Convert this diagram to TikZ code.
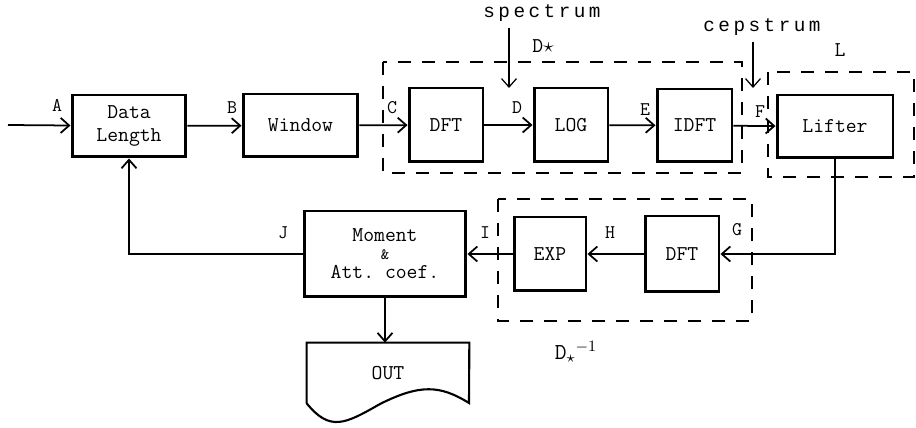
\documentclass[tikz,border=0pt]{standalone}
\usepackage{fontspec}
\newfontfamily\spacedtt[LetterSpace=18]{Liberation Mono}
\usetikzlibrary{arrows.meta,positioning}
\tikzset{
  blk/.style={draw,line width=1.7pt,inner sep=0pt,font=\ttfamily\fontsize{12}{13}\selectfont},
  conn/.style={-{Straight Barb[length=1.7mm,width=3mm]},line width=1pt},
  grp/.style={draw,line width=0.8pt,dash pattern=on 0.26cm off 0.22cm},
  lbl/.style={font=\ttfamily\fontsize{11}{12}\selectfont,inner sep=0pt},
  every node/.style={font=\ttfamily}
}

\begin{document}
\begin{tikzpicture}[x=0.02cm,y=-0.02cm]
\useasboundingbox (0,0) rectangle (916,428);

% upper row
\node[blk,minimum width=2.28cm,minimum height=1.24cm,align=center] (dlen) at (129,126) {Data\\Length};
\node[blk,minimum width=2.3cm,minimum height=1.26cm] (win) at (300.5,125.5) {Window};
\node[blk,minimum width=1.48cm,minimum height=1.48cm] (dft) at (446,125) {DFT};
\node[blk,minimum width=1.48cm,minimum height=1.48cm] (log) at (571,125) {LOG};
\node[blk,minimum width=1.5cm,minimum height=1.46cm] (idft) at (694.5,125.5) {IDFT};
\node[blk,minimum width=2.32cm,minimum height=1.26cm] (lift) at (835,126.5) {Lifter};

% lower row
\node[blk,minimum width=3.24cm,minimum height=1.72cm,align=center] (mom) at (385,254)
  {Moment\\[-3pt]{\fontsize{9}{9}\selectfont\&}\\[-2pt]Att.\ coef.};
\node[blk,minimum width=1.44cm,minimum height=1.48cm] (exp) at (550,254) {EXP};
\node[blk,minimum width=1.48cm,minimum height=1.52cm] (dft2) at (682,254) {DFT};

% output document
\node[minimum width=3.24cm,minimum height=1.2cm,inner sep=0pt,font=\ttfamily\fontsize{12}{13}\selectfont] (out) at (388,373) {OUT};
\draw[line width=1.2pt] (out.south west) -- (out.north west) -- (out.north east) -- (469,403)
  .. controls (440,385) and (420,384) .. (380,404)
  .. controls (345,424) and (330,432) .. (out.south west);

% groups
\draw[grp] (383,62) rectangle (742,173);
\draw[grp] (768,72) rectangle (914,177);
\draw[grp] (498,199) rectangle (752,321);
\node[font=\ttfamily\fontsize{12}{13}\selectfont] (dstar) at (543,46) {D$\star$};
\node[font=\ttfamily\fontsize{12}{13}\selectfont] (lname) at (840,50) {L};
\node[font=\ttfamily\fontsize{13}{14}\selectfont] (dinv) at (576,352) {D$_{\star}{}^{-1}$};

% connectors
\coordinate (in) at (8,125);
\draw[conn] (in) -- (dlen);
\draw[conn] (dlen) -- (win);
\draw[conn] (win) -- (dft);
\draw[conn] (dft) -- (log);
\draw[conn] (log) -- (idft);
\draw[conn] (idft) -- (lift);
\draw[conn] (lift.south) |- (dft2.east);
\draw[conn] (dft2) -- (exp);
\draw[conn] (exp) -- (mom);
\draw[conn] (mom.west) -| (dlen.south);
\draw[conn] (mom.south) -- (out.north -| mom.south);

% spectrum / cepstrum taps
\node[font=\spacedtt\fontsize{11}{12}\selectfont] (spec) at (542,13) {spectrum};
\node[font=\spacedtt\fontsize{11}{12}\selectfont] (ceps) at (762,27) {cepstrum};
\coordinate (spectip) at (509,88);
\coordinate (cepstip) at (753,88);
\draw[conn,line width=0.7pt] (spec.south -| spectip) -- (spectip);
\draw[conn,line width=0.7pt] (ceps.south -| cepstip) -- (cepstip);

% signal labels
\node[lbl] (la) at (57,105) {A};
\node[lbl] (lb) at (232,108) {B};
\node[lbl] (lc) at (392,108) {C};
\node[lbl] (ld) at (517,108) {D};
\node[lbl] (le) at (645,110) {E};
\node[lbl] (lf) at (760,112) {F};
\node[lbl] (lg) at (737,230) {G};
\node[lbl] (lh) at (610,233) {H};
\node[lbl] (li) at (485,233) {I};
\node[lbl] (lj) at (283,233) {J};
\end{tikzpicture}
\end{document}
